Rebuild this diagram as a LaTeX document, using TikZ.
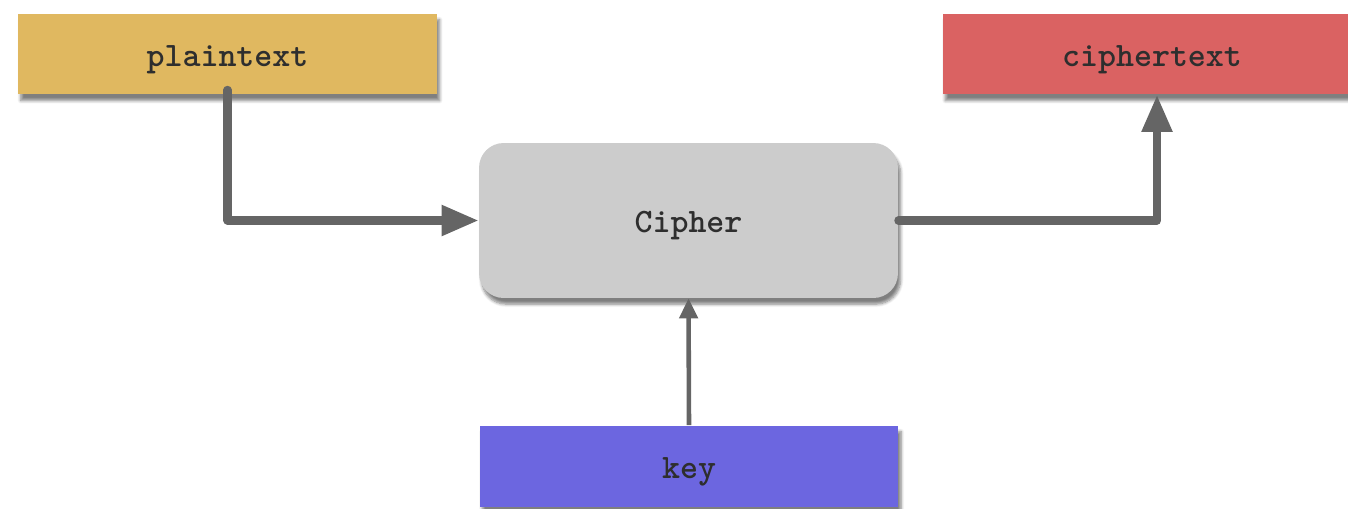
\documentclass[tikz,border=0pt]{standalone}
\usepackage{fontspec}
\usepackage{tikz}
\usetikzlibrary{arrows.meta,shadows.blur}
\definecolor{plano}{HTML}{E0B860}
\definecolor{cifrado}{HTML}{DA6262}
\definecolor{motor}{HTML}{CCCCCC}
\definecolor{clave}{HTML}{6C66E0}
\definecolor{trazo}{HTML}{656565}
\definecolor{letra}{HTML}{2E2E2E}

\begin{document}
\begin{tikzpicture}[x=0.02cm, y=-0.02cm,
  font=\ttfamily\bfseries\fontsize{19.5}{22}\selectfont, text=letra,
  caja/.style={minimum width=8.38cm, minimum height=1.62cm, inner sep=0pt,
    text height=17pt, text depth=3pt,
    blur shadow={shadow xshift=1.5pt, shadow yshift=-3.5pt, shadow blur steps=6, shadow opacity=50}},
  flow/.style={-{Triangle[length=0.74cm, width=0.58cm]}, trazo, line width=4.6pt, line cap=round, line join=round},
  thin flow/.style={-{Triangle[length=0.4cm, width=0.36cm]}, trazo, line width=2.6pt}]
\useasboundingbox (0,0) rectangle (1348,508);
\clip (0,0) rectangle (1348,508);
\node[caja, fill=plano] (plain) at (227.5,54) {plaintext};
\node[caja, fill=cifrado] (ctext) at (1152,54) {ciphertext};
\node[caja, fill=motor, rounded corners=14pt, minimum height=3.1cm] (cipher) at (688.5,220.5) {Cipher};
\node[caja, fill=clave] (key) at (689,466) {key};
\draw[flow] ([yshift=0.1cm]plain.south) |- (cipher.west);
\draw[flow] (cipher.east) -| ([xshift=0.1cm]ctext.south);
\draw[thin flow] (key.north) -- (cipher.south);
\end{tikzpicture}
\end{document}
